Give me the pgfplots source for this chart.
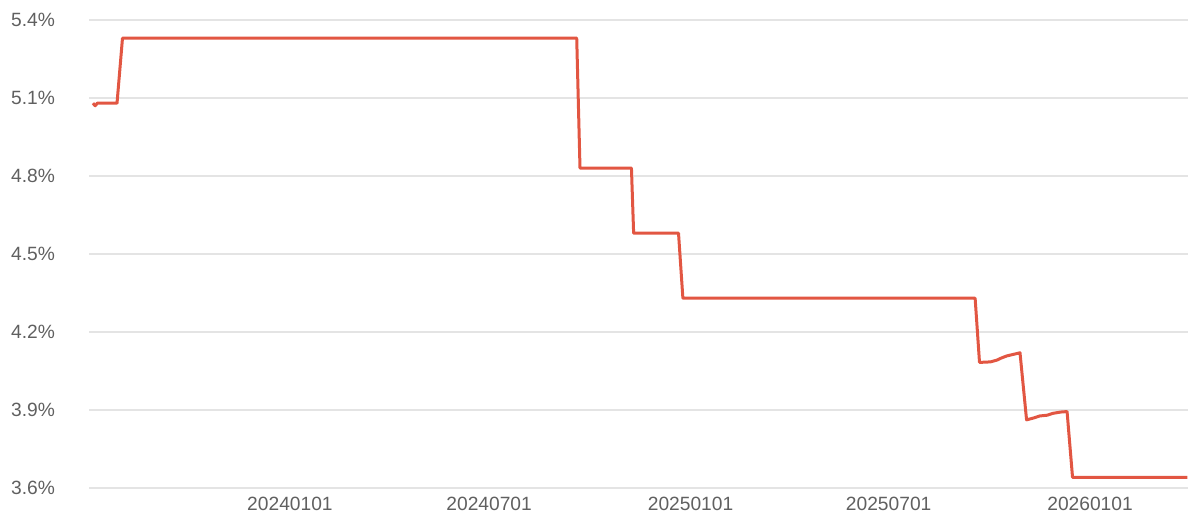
\documentclass[border=0pt]{standalone}
\usepackage{fontspec}
\setmainfont{Liberation Sans}
\usepackage{pgfplots}
\pgfplotsset{compat=1.18}
\definecolor{linecol}{RGB}{226,86,66}
\definecolor{gridcol}{RGB}{228,228,228}
\definecolor{labcol}{RGB}{96,96,96}
\begin{document}
\begin{tikzpicture}
\path[use as bounding box] (0,0) rectangle (596pt,261pt);
\begin{axis}[
  at={(44.5pt,17pt)}, anchor=south west,
  scale only axis, width=549.5pt, height=234pt,
  xmin=-183.6, xmax=820.5, ymin=3.6, ymax=5.4,
  axis line style={draw=none},
  major tick length=0pt,
  ymajorgrids, grid style={gridcol, line width=0.6pt},
  ytick={3.6,3.9,4.2,4.5,4.8,5.1,5.4},
  yticklabels={3.6\%,3.9\%,4.2\%,4.5\%,4.8\%,5.1\%,5.4\%},
  xtick={0,182,366,547,731},
  xticklabels={20240101,20240701,20250101,20250701,20260101},
  tick label style={font=\fontsize{9.6}{11}\selectfont, text=labcol},
  y tick label style={xshift=-13.5pt},
  x tick label style={yshift=-1pt},
  clip=false,
]
\addplot[linecol, line width=1.5pt, line join=round] coordinates {
(-180,5.08) (-178,5.07) (-176,5.08) (-158,5.08) (-153,5.33)
(262,5.33) (265,4.83) (312,4.83) (314,4.58) (355,4.58) (359,4.33)
(626,4.33) (630,4.083) (640,4.085) (646,4.092) (650,4.10) (655,4.108) (662,4.115) (667,4.12)
(673,3.862) (680,3.870) (685,3.877) (692,3.880) (697,3.887) (704,3.892) (710,3.894)
(715,3.641) (820,3.641)
};
\end{axis}
\end{tikzpicture}
\end{document}
